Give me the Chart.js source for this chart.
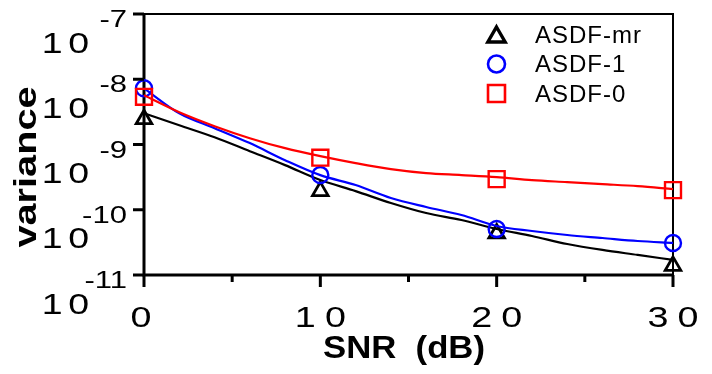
<!DOCTYPE html>
<html>
<head>
<meta charset="utf-8">
<script src="https://cdn.jsdelivr.net/npm/chart.js@4.4.0/dist/chart.umd.min.js"></script>
<style>
  html, body { margin: 0; background: #fff; }
  #wrap { width: 712px; height: 374px; position: relative; }
</style>
</head>
<body>
<div id="wrap"><canvas id="varianceChart"></canvas></div>
<script>
// SNR grid of the curves (dB)
const snr = [0, 2, 4, 6, 8, 10, 12, 14, 16, 18, 20, 22, 24, 26, 28, 30];
const mrLine   = [3.01e-9, 1.97e-9, 1.29e-9, 7.90e-10, 4.83e-10, 2.85e-10, 1.93e-10, 1.27e-10, 8.90e-11, 6.96e-11, 5.07e-11, 3.96e-11, 2.99e-11, 2.42e-11, 2.03e-11, 1.70e-11];
const oneLine  = [7.26e-9, 3.01e-9, 1.78e-9, 1.05e-9, 5.75e-10, 3.39e-10, 2.39e-10, 1.51e-10, 1.10e-10, 8.30e-11, 5.63e-11, 4.72e-11, 4.10e-11, 3.69e-11, 3.32e-11, 3.10e-11];
const zeroLine = [5.67e-9, 3.12e-9, 1.91e-9, 1.25e-9, 8.78e-10, 6.62e-10, 5.18e-10, 4.19e-10, 3.64e-10, 3.40e-10, 3.16e-10, 2.84e-10, 2.65e-10, 2.47e-10, 2.30e-10, 2.07e-10];

// marker positions
const markerSnr = [0, 10, 20, 30];
const mrMarks   = [2.44e-9, 1.93e-10, 4.33e-11, 1.38e-11];
const oneMarks  = [7.26e-9, 3.40e-10, 5.07e-11, 3.10e-11];
const zeroMarks = [5.38e-9, 6.28e-10, 2.95e-10, 2.00e-10];

const seriesNames = ['ASDF-mr', 'ASDF-1', 'ASDF-0'];
const xTicks = [0, 10, 20, 30];
const xMinorTicks = [5, 15, 25];
const xTickLabels = ['0', '10', '20', '30'];
const yTicks = [1e-7, 1e-8, 1e-9, 1e-10, 1e-11];
const yExpLabels = ['-7', '-8', '-9', '-10', '-11'];

const styles = [
  { color: '#000000', shape: 'triangle', r: 9, bw: 2.8, lr: 10, lbw: 3.4 },
  { color: '#0000ff', shape: 'circle', r: 8, bw: 2.4, lr: 8.5, lbw: 2.6 },
  { color: '#ff0000', shape: 'rect', r: 11.3, bw: 2.4, lr: 12, lbw: 2.6 }
];

function pts(xs, ys) { return xs.map((x, i) => ({ x: x, y: ys[i] })); }

const lines = [mrLine, oneLine, zeroLine];
const marks = [mrMarks, oneMarks, zeroMarks];
const datasets = [];
lines.forEach((ys, i) => {
  datasets.push({
    label: seriesNames[i] + ' curve',
    data: pts(snr, ys),
    borderColor: styles[i].color,
    borderWidth: 2.2,
    pointRadius: 0,
    cubicInterpolationMode: 'monotone',
    fill: false,
    clip: false,
    order: 6 - i * 2
  });
});
marks.forEach((ys, i) => {
  datasets.push({
    label: seriesNames[i],
    data: pts(markerSnr, ys),
    showLine: false,
    pointStyle: styles[i].shape,
    pointRadius: styles[i].r,
    pointBorderWidth: styles[i].bw,
    pointBorderColor: styles[i].color,
    pointBackgroundColor: 'rgba(255,255,255,0)',
    clip: false,
    order: 5 - i * 2
  });
});

// text stretched horizontally by sx, with letter spacing ls
function wideText(ctx, str, x, y, align, sx, ls) {
  ctx.save();
  ctx.letterSpacing = ls + 'px';
  const w = (ctx.measureText(str).width - ls) * sx;
  let start = x;
  if (align === 'right') start = x - w;
  else if (align === 'center') start = x - w / 2;
  ctx.textAlign = 'left';
  ctx.translate(start, y);
  ctx.scale(sx, 1);
  ctx.fillText(str, 0, 0);
  ctx.restore();
}

const FONT = '"Liberation Sans", Arial, sans-serif';

const axesPlugin = {
  id: 'axesPlugin',
  beforeDatasetsDraw(chart) {
    const { ctx, chartArea: a } = chart;
    ctx.save();
    ctx.strokeStyle = '#000';
    ctx.lineWidth = 2;
    ctx.beginPath();
    ctx.moveTo(a.left, a.top); ctx.lineTo(a.right, a.top); ctx.lineTo(a.right, a.bottom);
    ctx.stroke();
    ctx.lineWidth = 3;
    ctx.beginPath();
    ctx.moveTo(a.left, a.top - 1); ctx.lineTo(a.left, a.bottom); ctx.lineTo(a.right + 1, a.bottom);
    ctx.stroke();
    ctx.restore();
  },
  afterDatasetsDraw(chart) {
    const { ctx, chartArea: a, scales } = chart;
    const xs = scales.x, ys = scales.y;
    ctx.save();
    ctx.strokeStyle = '#000';
    ctx.fillStyle = '#000';
    ctx.lineWidth = 3;
    xTicks.forEach(v => {
      const px = xs.getPixelForValue(v);
      ctx.beginPath(); ctx.moveTo(px, a.bottom); ctx.lineTo(px, a.bottom + 12); ctx.stroke();
    });
    xMinorTicks.forEach(v => {
      const px = xs.getPixelForValue(v);
      ctx.beginPath(); ctx.moveTo(px, a.bottom); ctx.lineTo(px, a.bottom + 7); ctx.stroke();
    });
    yTicks.forEach(v => {
      const py = ys.getPixelForValue(v);
      ctx.beginPath(); ctx.moveTo(a.left - 11, py); ctx.lineTo(a.left, py); ctx.stroke();
    });
    ctx.textBaseline = 'alphabetic';
    ctx.font = '29px ' + FONT;
    xTicks.forEach((v, i) => {
      const px = xs.getPixelForValue(v);
      wideText(ctx, xTickLabels[i], px - (i === 0 ? 3 : 0), 327, 'center', 1.3, 7);
    });
    yTicks.forEach((v, i) => {
      const py = ys.getPixelForValue(v);
      ctx.font = '30px ' + FONT;
      wideText(ctx, '10', 89, py + 38.5, 'right', 1.25, 4.5);
      ctx.font = '23px ' + FONT;
      wideText(ctx, yExpLabels[i], 127, py + 13, 'right', 1.35, 0);
    });
    // axis titles
    ctx.font = 'bold 31px ' + FONT;
    wideText(ctx, 'SNR  (dB)', 404, 358, 'center', 1.12, 0);
    ctx.save();
    ctx.translate(36, 167);
    ctx.rotate(-Math.PI / 2);
    wideText(ctx, 'variance', 0, 0, 'center', 1.28, 0);
    ctx.restore();
    // legend
    const rows = [35, 64, 94];
    const markY = [37, 64, 93.5];
    ctx.font = '24px ' + FONT;
    ctx.textBaseline = 'middle';
    seriesNames.forEach((name, i) => {
      const s = styles[i];
      ctx.strokeStyle = s.color;
      ctx.fillStyle = 'rgba(255,255,255,0)';
      ctx.lineWidth = s.lbw;
      Chart.helpers.drawPoint(ctx, { pointStyle: s.shape, radius: s.lr, rotation: 0, borderWidth: s.lbw }, 496.5, markY[i]);
      ctx.fillStyle = '#000';
      wideText(ctx, name, 535, rows[i] + 1, 'left', 1, 1);
    });
    ctx.restore();
  }
};

new Chart(document.getElementById('varianceChart'), {
  type: 'line',
  data: { datasets: datasets },
  options: {
    responsive: true,
    maintainAspectRatio: false,
    animation: false,
    layout: { padding: { left: 144, right: 39, top: 14, bottom: 99 } },
    scales: {
      x: { type: 'linear', min: 0, max: 30, display: false },
      y: { type: 'logarithmic', min: 1e-11, max: 1e-7, display: false }
    },
    plugins: {
      legend: { display: false },
      tooltip: { enabled: false }
    }
  },
  plugins: [axesPlugin]
});
</script>
</body>
</html>
